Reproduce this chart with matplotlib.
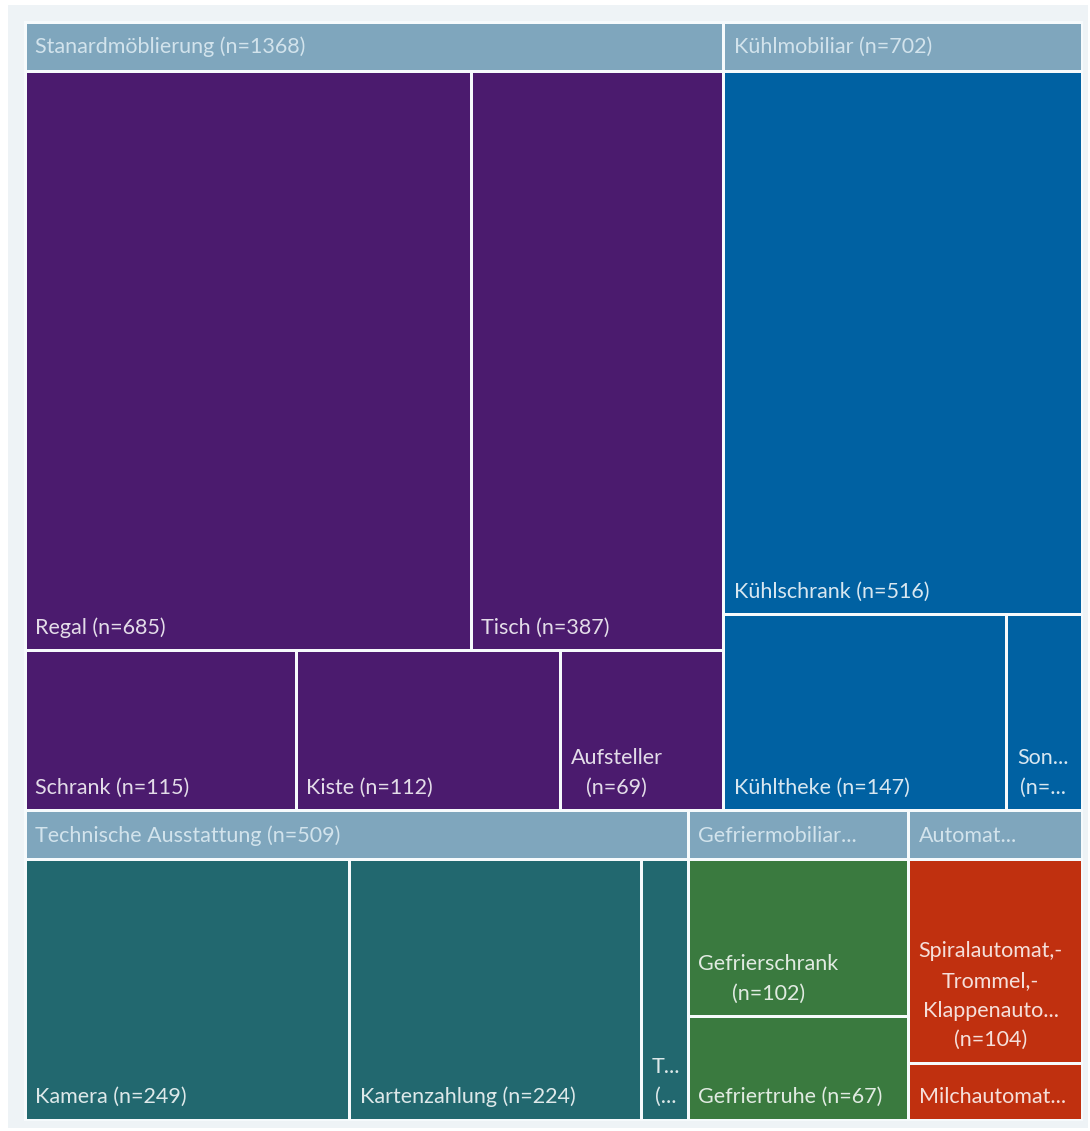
import matplotlib
matplotlib.use("Agg")
import matplotlib.pyplot as plt
from matplotlib.patches import Rectangle

# --- Daten ---------------------------------------------------------------
gruppen_namen = ["Stanardmöblierung (n=1368)", "Kühlmobiliar (n=702)",
                 "Technische Ausstattung (n=509)", "Gefriermobiliar...", "Automat..."]

std_labels = ["Regal (n=685)", "Tisch (n=387)", "Schrank (n=115)", "Kiste (n=112)", "Aufsteller\n(n=69)"]
std_werte = [685, 387, 115, 112, 69]

kuehl_labels = ["Kühlschrank (n=516)", "Kühltheke (n=147)", "Son...\n(n=..."]
kuehl_werte = [516, 147, 39]

tech_labels = ["Kamera (n=249)", "Kartenzahlung (n=224)", "T...\n(..."]
tech_werte = [249, 224, 36]

gefrier_labels = ["Gefrierschrank\n(n=102)", "Gefriertruhe (n=67)"]
gefrier_werte = [102, 67]

automat_labels = ["Spiralautomat,-\nTrommel,-\nKlappenauto...\n(n=104)", "Milchautomat..."]
automat_werte = [104, 29]

# --- Layout / Stil -------------------------------------------------------
BREITE, HOEHE = 1090, 1131
FLAECHE = (25, 22, 1057, 1098)   # x, y, w, h in Pixel
KOPF_HOEHE = 46
LUECKE = 3
FARBE_KOPF = "#7fa6bd"
FARBE_HINTERGRUND = "#eef3f6"
SCHRIFT = "Lato"
SCHRIFTGROESSE = 15.5

gruppen = [
    (std_labels, std_werte, [2, 3], "#4b1b6e"),
    (kuehl_labels, kuehl_werte, [1, 2], "#0061a2"),
    (tech_labels, tech_werte, [3], "#22686f"),
    (gefrier_labels, gefrier_werte, [1, 1], "#3a7a3f"),
    (automat_labels, automat_werte, [1, 1], "#c0300f"),
]
gruppen_zeilen = [2, 3]


def _zeilen_aufteilen(werte, zeilen, x, y, w, h):
    """Teilt ein Rechteck zeilenweise proportional zu den Werten auf."""
    rects = []
    gesamt = sum(werte)
    idx = 0
    y_akt = y
    for n in zeilen:
        zeile = werte[idx:idx + n]
        zh = h * sum(zeile) / gesamt
        x_akt = x
        for v in zeile:
            zw = w * v / sum(zeile)
            rects.append((x_akt, y_akt, zw, zh))
            x_akt += zw
        y_akt += zh
        idx += n
    return rects


def _zelle(ax, r, farbe):
    x, y, w, h = r
    ax.add_patch(Rectangle((x + LUECKE / 2, y + LUECKE / 2), w - LUECKE, h - LUECKE,
                           facecolor=farbe, edgecolor="none", zorder=2))


fig = plt.figure(figsize=(BREITE / 100, HOEHE / 100), dpi=100)
fig.patch.set_facecolor("white")
ax = fig.add_axes([0, 0, 1, 1])
ax.set_xlim(0, BREITE)
ax.set_ylim(HOEHE, 0)
ax.axis("off")

ax.add_patch(Rectangle((8, 5), 1080, 1123, facecolor=FARBE_HINTERGRUND, edgecolor="none", zorder=0))
fx, fy, fw, fh = FLAECHE
ax.add_patch(Rectangle((fx - 1, fy - 1), fw + 2, fh + 2, facecolor="#f6fafc", edgecolor="none", zorder=1))

gruppen_summen = [sum(g[1]) for g in gruppen]
gruppen_rects = _zeilen_aufteilen(gruppen_summen, gruppen_zeilen, fx, fy, fw, fh)

for (labels, werte, zeilen, farbe), titel, gr in zip(gruppen, gruppen_namen, gruppen_rects):
    gx, gy, gw, gh = gr
    _zelle(ax, (gx, gy, gw, KOPF_HOEHE + LUECKE), FARBE_KOPF)
    ax.text(gx + 10, gy + KOPF_HOEHE / 2 + 2, titel, ha="left", va="center",
            fontsize=SCHRIFTGROESSE, color="#d2e3ec", family=SCHRIFT, zorder=3)
    innen = _zeilen_aufteilen(werte, zeilen, gx, gy + KOPF_HOEHE + LUECKE, gw, gh - KOPF_HOEHE - LUECKE)
    for lab, r in zip(labels, innen):
        _zelle(ax, r, farbe)
        x, y, w, h = r
        ax.text(x + 10, y + h - 13, lab, ha="left", va="bottom",
                multialignment="center", linespacing=1.6,
                fontsize=SCHRIFTGROESSE, color="white", alpha=0.85, family=SCHRIFT, zorder=3)

fig.savefig("out.png", dpi=100)
